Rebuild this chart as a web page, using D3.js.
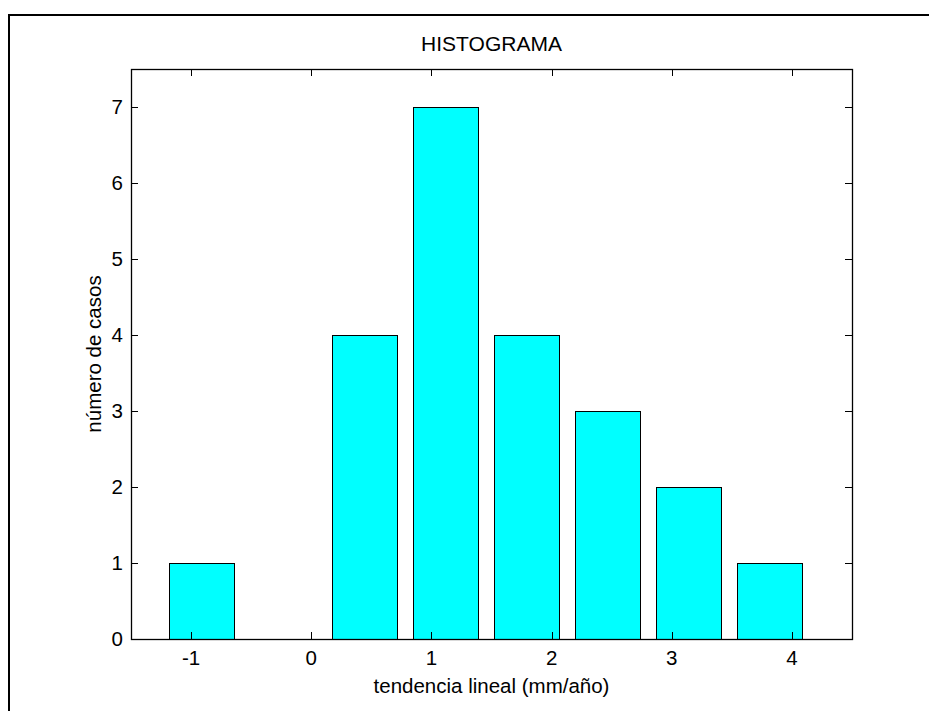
<!DOCTYPE html>
<html>
<head>
<meta charset="utf-8">
<script src="https://cdn.jsdelivr.net/npm/d3@7"></script>
<style>
  html, body { margin: 0; padding: 0; background: #fff; }
  svg { display: block; }
  text { font-family: "Liberation Sans", Arial, sans-serif; fill: #000; }
</style>
</head>
<body>
<svg id="chart" width="929" height="711"></svg>
<script>
// Data
const binCenters = [-0.91, -0.235, 0.44, 1.115, 1.79, 2.465, 3.14, 3.815];
const counts = [1, 0, 4, 7, 4, 3, 2, 1];
const xTicks = [-1, 0, 1, 2, 3, 4];
const yTicks = [0, 1, 2, 3, 4, 5, 6, 7];
const binWidth = 0.675;
const titleText = "HISTOGRAMA";
const xLabelText = "tendencia lineal (mm/año)";
const yLabelText = "número de casos";

const svg = d3.select("#chart");
const pLeft = 131, pTop = 69, pRight = 852, pBottom = 639;

const x = d3.scaleLinear().domain([-1.5, 4.5]).range([pLeft, pRight]);
const y = d3.scaleLinear().domain([0, 7.5]).range([pBottom, pTop]);

// Outer frame
svg.append("path")
  .attr("d", `M9,711 L9,15 L929,15`)
  .attr("fill", "none")
  .attr("stroke", "#000")
  .attr("stroke-width", 2);

// Bars
const bw = x(0.8 * binWidth) - x(0);
svg.append("g").selectAll("rect")
  .data(binCenters.map((c, i) => ({ c, v: counts[i] })))
  .join("rect")
  .attr("x", d => Math.round(x(d.c) - bw / 2) + 0.5)
  .attr("y", d => Math.round(y(d.v)) + 0.5)
  .attr("width", Math.round(bw))
  .attr("height", d => Math.round(y(0)) - Math.round(y(d.v)))
  .attr("fill", "#00ffff")
  .attr("stroke", "#000")
  .attr("stroke-width", 1);

// Axes box
svg.append("rect")
  .attr("x", pLeft + 0.5).attr("y", pTop + 0.5)
  .attr("width", pRight - pLeft).attr("height", pBottom - pTop)
  .attr("fill", "none")
  .attr("stroke", "#000")
  .attr("stroke-width", 1.3);

const tickLen = 7;
const g = svg.append("g");

// X ticks (bottom and top, inward)
xTicks.forEach(t => {
  const px = Math.round(x(t)) + 0.5;
  g.append("line").attr("x1", px).attr("x2", px).attr("y1", pBottom).attr("y2", pBottom - tickLen).attr("stroke", "#000");
  g.append("line").attr("x1", px).attr("x2", px).attr("y1", pTop).attr("y2", pTop + tickLen).attr("stroke", "#000");
  g.append("text").attr("x", x(t)).attr("y", 665)
    .attr("text-anchor", "middle").attr("font-size", "20.5px").text(t);
});

// Y ticks (left and right, inward)
yTicks.forEach(t => {
  const py = Math.round(y(t)) + 0.5;
  g.append("line").attr("x1", pLeft).attr("x2", pLeft + tickLen).attr("y1", py).attr("y2", py).attr("stroke", "#000");
  g.append("line").attr("x1", pRight).attr("x2", pRight - tickLen).attr("y1", py).attr("y2", py).attr("stroke", "#000");
  g.append("text").attr("x", 123).attr("y", y(t)).attr("dy", "0.36em")
    .attr("text-anchor", "end").attr("font-size", "20.5px").text(t);
});

// Title
svg.append("text").attr("x", (pLeft + pRight) / 2).attr("y", 51)
  .attr("text-anchor", "middle").attr("font-size", "21px").text(titleText);

// X label
svg.append("text").attr("x", (pLeft + pRight) / 2).attr("y", 693)
  .attr("text-anchor", "middle").attr("font-size", "20.5px").text(xLabelText);

// Y label
svg.append("text")
  .attr("transform", `translate(101,${(pTop + pBottom) / 2}) rotate(-90)`)
  .attr("text-anchor", "middle").attr("font-size", "20.5px").text(yLabelText);
</script>
</body>
</html>
